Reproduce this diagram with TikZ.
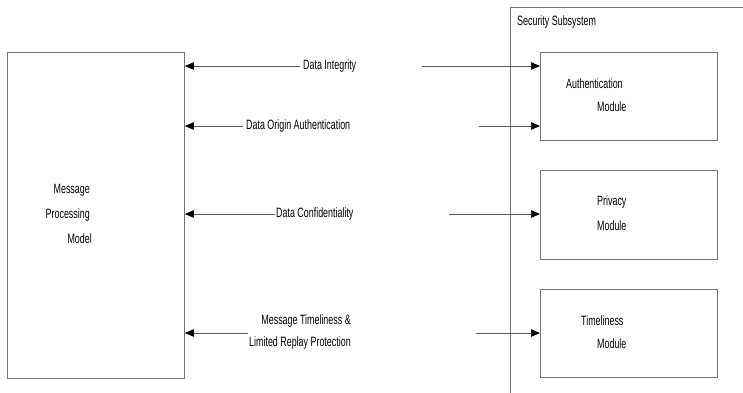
\documentclass[tikz,border=0pt]{standalone}
\usepackage{fontspec}
\setmainfont[FakeStretch=0.66]{Liberation Sans}
\usetikzlibrary{arrows.meta}
\begin{document}
\begin{tikzpicture}[x=1pt,y=-1pt,
  box/.style={draw=black!55,line width=0.9pt,inner sep=0pt,anchor=north west},
  lbl/.style={font=\fontsize{13.5}{15}\selectfont,inner sep=0pt,text=black},
  arr/.style={draw=black!65,line width=0.7pt,-{Triangle[length=9pt,width=7.5pt,color=black,fill=black]}}]
\useasboundingbox (0,0) rectangle (743,392);
% message processing model
\node[box,minimum width=177pt,minimum height=326pt] (mpm) at (7,52) {};
\node[lbl,anchor=east] (m1) at (90,190) {Message};
\node[lbl,anchor=east] (m2) at (90,215) {Processing};
\node[lbl,anchor=east] (m3) at (92,239) {Model};
% security subsystem
\draw[draw=black!55,line width=0.9pt] (510,393) -- (510,7) -- (744,7);
\node[lbl,anchor=west] (ss) at (517,22) {Security Subsystem};
% modules
\node[box,minimum width=177pt,minimum height=88pt] (auth) at (540,52) {};
\node[box,minimum width=177pt,minimum height=89pt] (priv) at (540,170) {};
\node[box,minimum width=177pt,minimum height=88pt] (time) at (540,289) {};
\node[lbl,anchor=west] (a1) at (566,84) {Authentication};
\node[lbl,anchor=west] (a2) at (597,107) {Module};
\node[lbl,anchor=west] (p1) at (597,202) {Privacy};
\node[lbl,anchor=west] (p2) at (597,226) {Module};
\node[lbl,anchor=west] (t1) at (581,321) {Timeliness};
\node[lbl,anchor=west] (t2) at (597,344) {Module};
% labels
\node[lbl,anchor=west] (l1) at (303,66) {Data Integrity};
\node[lbl,anchor=west] (l2) at (246,126) {Data Origin Authentication};
\node[lbl,anchor=west] (l3) at (276,214) {Data Confidentiality};
\node[lbl,anchor=west,align=right] (l4) at (249,332) {Message Timeliness \&\\[7pt]Limited Replay Protection};
% left arrows
\draw[arr] (l1.west) ++(-3,0) -- (mpm.east |- l1.west);
\draw[arr] (l2.west) ++(-3,0) -- (mpm.east |- l2.west);
\draw[arr] (l3.west) ++(-1,0) -- (mpm.east |- l3.west);
\coordinate (e4) at (248,333);
\draw[arr] (e4) -- (mpm.east |- e4);
% right arrows
\coordinate (s1) at (422,66);
\coordinate (s2) at (479,126);
\coordinate (s3) at (449,214);
\coordinate (s4) at (476,333);
\draw[arr] (s1) -- (auth.west |- s1);
\draw[arr] (s2) -- (auth.west |- s2);
\draw[arr] (s3) -- (priv.west |- s3);
\draw[arr] (s4) -- (time.west |- s4);
\end{tikzpicture}
\end{document}
